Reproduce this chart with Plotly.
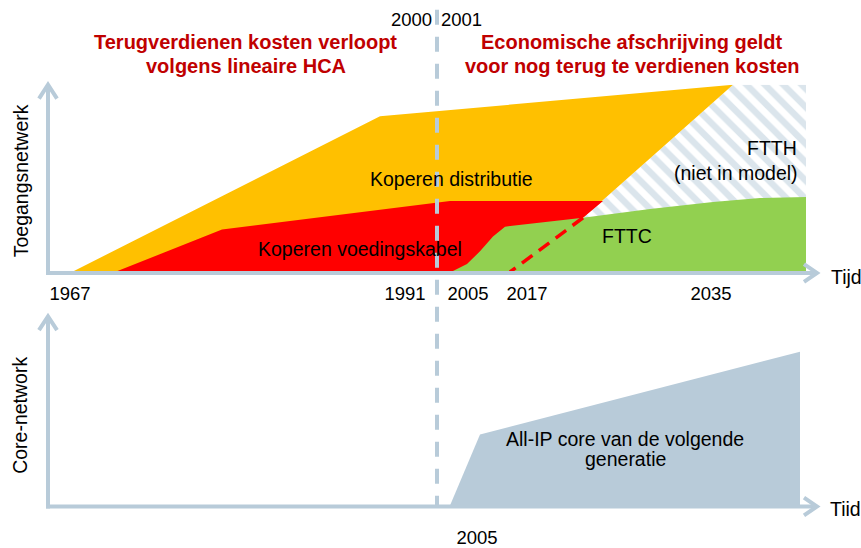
import plotly.graph_objects as go

W, H = 861, 548

# ---------------- data (conceptual time / cost units) ----------------
# top panel: access network (Toegangsnetwerk)
distributie_x = [24, 332, 685, 535, 535]
distributie_y = [0, 158, 190, 55, 0]

voeding_x = [67, 174, 402, 555, 535, 535]
voeding_y = [0, 43, 72, 72, 55, 0]

ftth_x = [685, 758, 758, 535, 535]
ftth_y = [190, 190, 0, 0, 55]

fttc_x = [403, 419, 432, 445, 457, 535, 602, 665, 712, 758, 758]
fttc_y = [0, 8, 21, 36, 46, 55, 64, 71, 75, 76, 0]

dashed_x = [535, 462]
dashed_y = [55, 0]

# bottom panel: core network
core_x = [402, 432, 752, 752]
core_y = [0, 72, 156, 0]

top_tick_vals = [22, 357, 420, 479, 663]
top_tick_text = ["1967", "1991", "2005", "2017", "2035"]
bottom_tick_vals = [429]
bottom_tick_text = ["2005"]

# ---------------- styling ----------------
FONT = "Liberation Sans, Arial, sans-serif"
AXC = "#B8CBD9"
YELLOW = "#FFC000"
RED = "#FF0000"
GREEN = "#92D050"
DARKRED = "#C00000"


def X(px):
    return px / W


def Y(py):
    return 1 - py / H


fig = go.Figure()

fig.add_trace(go.Scatter(x=ftth_x, y=ftth_y, fill="toself", mode="none",
                         fillcolor="white",
                         fillpattern=dict(shape="\\", fgcolor=AXC, bgcolor="white",
                                          size=13, solidity=0.5),
                         hoverinfo="skip", xaxis="x", yaxis="y"))
fig.add_trace(go.Scatter(x=distributie_x, y=distributie_y, fill="toself", mode="none",
                         fillcolor=YELLOW, hoverinfo="skip", xaxis="x", yaxis="y"))
fig.add_trace(go.Scatter(x=voeding_x, y=voeding_y, fill="toself", mode="none",
                         fillcolor=RED, hoverinfo="skip", xaxis="x", yaxis="y"))
fig.add_trace(go.Scatter(x=fttc_x, y=fttc_y, fill="toself", mode="none",
                         fillcolor=GREEN, hoverinfo="skip", xaxis="x", yaxis="y"))
fig.add_trace(go.Scatter(x=dashed_x, y=dashed_y, mode="lines",
                         line=dict(color=RED, width=3.5, dash="13px,8px"),
                         hoverinfo="skip", xaxis="x", yaxis="y"))
fig.add_trace(go.Scatter(x=core_x, y=core_y, fill="toself", mode="none",
                         fillcolor=AXC, hoverinfo="skip", xaxis="x2", yaxis="y2"))

shapes = []
# vertical dashed separator
shapes.append(dict(type="line", xref="paper", yref="paper",
                   x0=X(437), x1=X(437), y0=Y(10), y1=Y(515),
                   line=dict(color=AXC, width=4, dash="15px,12px"), layer="above"))

# axes with open arrowheads
for (ox, oy, ty, tx) in [(48, 277, 87, 816), (48, 514, 322, 816)]:
    shapes.append(dict(type="line", xref="paper", yref="paper",
                       x0=X(ox), x1=X(ox), y0=Y(oy + 2), y1=Y(ty),
                       line=dict(color=AXC, width=4), layer="above"))
    shapes.append(dict(type="line", xref="paper", yref="paper",
                       x0=X(ox - 2), x1=X(tx), y0=Y(oy), y1=Y(oy),
                       line=dict(color=AXC, width=4), layer="above"))
    shapes.append(dict(type="path", xref="paper", yref="paper",
                       path=f"M {X(ox-9)} {Y(ty+13)} L {X(ox)} {Y(ty-1)} L {X(ox+9)} {Y(ty+13)}",
                       line=dict(color=AXC, width=4), layer="above"))
    shapes.append(dict(type="path", xref="paper", yref="paper",
                       path=f"M {X(tx-12)} {Y(oy-9)} L {X(tx+1)} {Y(oy)} L {X(tx-12)} {Y(oy+9)}",
                       line=dict(color=AXC, width=4), layer="above"))

ann = []


def txt(text, x, y, size=19.5, color="black", xanchor="center", bold=False,
        xref="paper", yref="paper", angle=0):
    if bold:
        text = "<b>" + text + "</b>"
    ann.append(dict(text=text, x=x, y=y, xref=xref, yref=yref, showarrow=False,
                    xanchor=xanchor, yanchor="middle", textangle=angle,
                    font=dict(family=FONT, size=size, color=color)))


# headings
txt("Terugverdienen kosten verloopt", X(245), Y(43), size=20, color=DARKRED, bold=True)
txt("volgens lineaire HCA", X(246), Y(67), size=20, color=DARKRED, bold=True)
txt("Economische afschrijving geldt", X(632), Y(43), size=20, color=DARKRED, bold=True)
txt("voor nog terug te verdienen kosten", X(632), Y(67), size=20, color=DARKRED, bold=True)
txt("2000", X(434), Y(20), size=18.5, xanchor="right")
txt("2001", X(439), Y(20), size=18.5, xanchor="left")

# panel labels (data coordinates)
txt("Koperen distributie", 403, 94, xref="x", yref="y")
txt("Koperen voedingskabel", 312, 23, xref="x", yref="y")
txt("FTTC", 579, 36, xref="x", yref="y")
txt("FTTH", 751, 126, xref="x", yref="y", xanchor="right")
txt("(niet in model)", 752, 100, xref="x", yref="y", xanchor="right")
txt("All-IP core van de volgende", 577, 68, xref="x2", yref="y2")
txt("generatie", 577, 47, xref="x2", yref="y2")

txt("Tijd", X(829), Y(281), xanchor="left")
txt("Tiid", X(828), Y(517), xanchor="left")
txt("Toegangsnetwerk", X(21), Y(184), angle=-90)
txt("Core-network", X(20), Y(422), angle=-90)

common_x = dict(range=[0, 769], domain=[X(48), X(817)], showgrid=False, zeroline=False,
                showline=False, ticks="", fixedrange=True,
                tickfont=dict(family=FONT, size=18.5, color="black"))

fig.update_layout(
    width=W, height=H, margin=dict(l=0, r=0, t=0, b=0),
    paper_bgcolor="white", plot_bgcolor="rgba(0,0,0,0)", showlegend=False,
    xaxis=dict(**common_x, anchor="y", tickvals=top_tick_vals, ticktext=top_tick_text,
               ticklabelstandoff=9),
    yaxis=dict(range=[0, 190], domain=[Y(276), Y(86)], visible=False, fixedrange=True),
    xaxis2=dict(**common_x, anchor="y2", tickvals=bottom_tick_vals, ticktext=bottom_tick_text,
                ticklabelstandoff=19),
    yaxis2=dict(range=[0, 192], domain=[Y(513), Y(321)], visible=False, fixedrange=True),
    shapes=shapes, annotations=ann,
)

fig.write_html("out.html", config={"displayModeBar": False},
               post_script="document.body.style.margin='0';document.body.style.overflow='hidden';")
